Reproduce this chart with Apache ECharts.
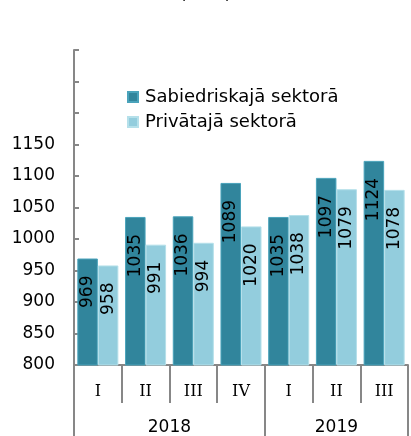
<!DOCTYPE html>
<html>
<head>
<meta charset="utf-8">
<script src="https://cdn.jsdelivr.net/npm/echarts@6/dist/echarts.min.js"></script>
<style>
  html, body { margin: 0; padding: 0; background: #fff; }
  #chart { width: 411px; height: 436px; }
</style>
</head>
<body>
<div id="chart"></div>
<script>
// dati
var quarters = ['I', 'II', 'III', 'IV', 'I', 'II', 'III'];
var years = ['2018', '2019'];
var yearCenters = [2, 5.5];
var yearBounds = [0, 4, 7];
var publicSector = [969, 1035, 1036, 1089, 1035, 1097, 1124];
var privateSector = [958, 991, 994, 1020, 1038, 1079, 1078];
var seriesNames = ['Sabiedriskajā sektorā', 'Privātajā sektorā'];

var chart = echarts.init(document.getElementById('chart'));

var axisGray = '#878787';
var font = 'DejaVu Sans, Verdana, sans-serif';

var barLabel = {
  show: true,
  position: 'insideTop',
  rotate: 90,
  align: 'right',
  verticalAlign: 'middle',
  distance: 17,
  color: '#000',
  fontFamily: font,
  fontSize: 17
};

var option = {
  animation: false,
  title: {
    text: '(euro)',
    left: 'center',
    top: -19,
    textStyle: { fontFamily: font, fontSize: 17, fontWeight: 'normal', color: '#000' }
  },
  legend: {
    orient: 'vertical',
    left: 122,
    top: 83,
    itemWidth: 10,
    itemHeight: 10,
    itemGap: 7,
    icon: 'rect',
    data: seriesNames,
    textStyle: { fontFamily: font, fontSize: 18, color: '#000', padding: [0, 0, 0, 2] }
  },
  grid: { left: 74, right: 3, top: 50, bottom: 71 },
  xAxis: [
    {
      type: 'category',
      data: quarters,
      axisLine: { lineStyle: { color: axisGray, width: 2 } },
      axisTick: { show: true, length: 38, lineStyle: { color: axisGray, width: 2 } },
      axisLabel: { margin: 19, color: '#000', fontFamily: 'DejaVu Serif, serif', fontSize: 16 }
    },
    {
      type: 'value',
      position: 'bottom',
      min: 0,
      max: 7,
      interval: 0.5,
      splitLine: { show: false },
      axisLine: { show: false },
      axisTick: { show: true, length: 71, customValues: yearBounds, lineStyle: { color: axisGray, width: 2 } },
      axisLabel: {
        margin: 54,
        color: '#000',
        fontFamily: font,
        fontSize: 17,
        customValues: yearCenters,
        formatter: function (v) {
          var i = yearCenters.indexOf(v);
          return i >= 0 ? years[i] : '';
        }
      }
    }
  ],
  yAxis: {
    type: 'value',
    min: 800,
    max: 1300,
    interval: 50,
    splitLine: { show: false },
    axisLine: { show: true, lineStyle: { color: axisGray, width: 2 } },
    axisTick: { show: true, inside: true, length: 5, lineStyle: { color: axisGray, width: 2 } },
    axisLabel: {
      margin: 19,
      color: '#000',
      fontFamily: font,
      fontSize: 17,
      formatter: function (v) { return v > 1150 ? '' : v; }
    }
  },
  series: [
    {
      name: seriesNames[0],
      type: 'bar',
      data: publicSector,
      barGap: '0%',
      barCategoryGap: '14%',
      itemStyle: { color: '#31859c', borderColor: '#4aa3bb', borderWidth: 1 },
      label: barLabel
    },
    {
      name: seriesNames[1],
      type: 'bar',
      data: privateSector,
      itemStyle: { color: '#93cddd', borderColor: '#b5e0ea', borderWidth: 1 },
      label: barLabel
    }
  ]
};

chart.setOption(option);
</script>
</body>
</html>
